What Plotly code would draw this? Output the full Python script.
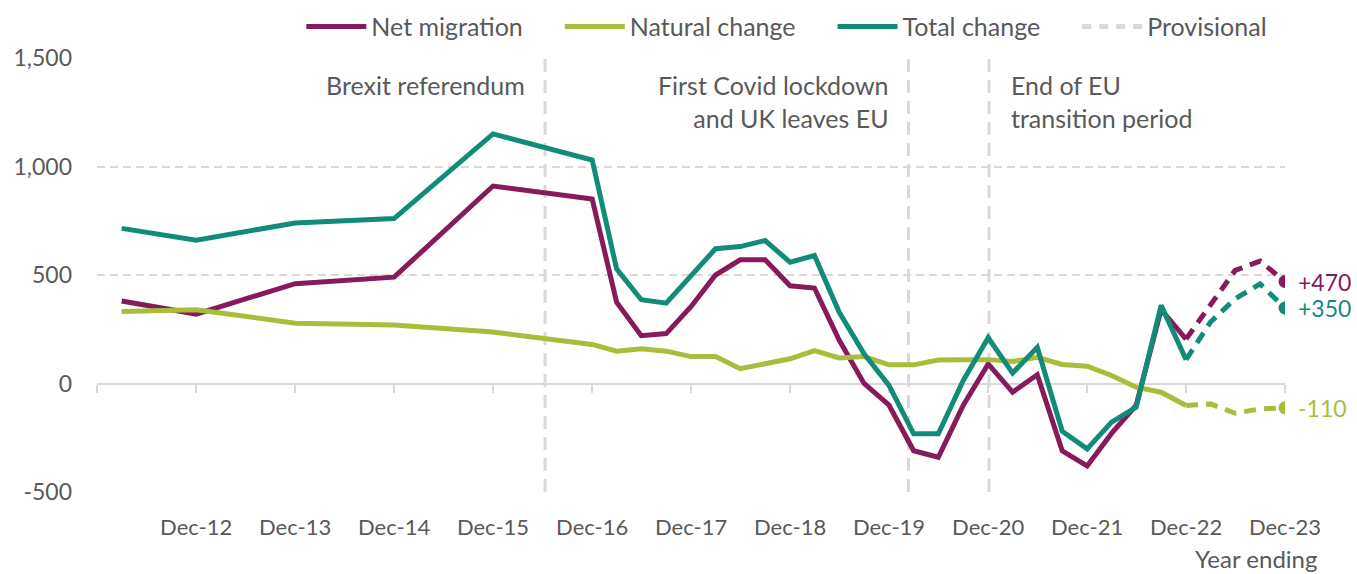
import plotly.graph_objects as go

# ---- data (thousands) ----
dates = ["2012-03-31", "2012-12-31", "2013-12-31", "2014-12-31", "2015-12-31", "2016-12-31",
         "2017-03-31", "2017-06-30", "2017-09-30", "2017-12-31",
         "2018-03-31", "2018-06-30", "2018-09-30", "2018-12-31",
         "2019-03-31", "2019-06-30", "2019-09-30", "2019-12-31",
         "2020-03-31", "2020-06-30", "2020-09-30", "2020-12-31",
         "2021-03-31", "2021-06-30", "2021-09-30", "2021-12-31",
         "2022-03-31", "2022-06-30", "2022-09-30", "2022-12-31"]
net_migration = [380, 320, 460, 490, 910, 850,
                 375, 220, 230, 355,
                 500, 570, 570, 450,
                 440, 200, 0, -100,
                 -310, -340, -100, 90,
                 -40, 40, -310, -380,
                 -230, -100, 340, 205]
natural_change = [332, 340, 278, 270, 237, 180,
                  149, 160, 149, 124,
                  124, 68, 91, 114,
                  152, 118, 124, 86,
                  86, 108, 110, 110,
                  101, 121, 88, 80,
                  37, -17, -40, -101]
total_change = [715, 660, 740, 760, 1150, 1030,
                528, 386, 370, 497,
                621, 631, 659, 559,
                590, 329, 137, -9,
                -232, -232, 14, 211,
                48, 167, -220, -301,
                -178, -109, 360, 110]

prov_dates = ["2022-12-31", "2023-03-31", "2023-06-30", "2023-09-30", "2023-12-31"]
prov_net = [205, 361, 521, 564, 470]
prov_natural = [-101, -94, -137, -117, -112]
prov_total = [110, 283, 390, 459, 348]
end_labels = ["+470", "-110", "+350"]

event_dates = ["2016-07-10", "2020-03-12", "2021-01-03"]
event_texts = ["Brexit referendum", "First Covid lockdown<br>and UK leaves EU", "End of EU<br>transition period"]

xtick_vals = ["2012-12-31", "2013-12-31", "2014-12-31", "2015-12-31", "2016-12-31", "2017-12-31",
              "2018-12-31", "2019-12-31", "2020-12-31", "2021-12-31", "2022-12-31", "2023-12-31"]
xtick_text = ["Dec-12", "Dec-13", "Dec-14", "Dec-15", "Dec-16", "Dec-17",
              "Dec-18", "Dec-19", "Dec-20", "Dec-21", "Dec-22", "Dec-23"]
axis_ticks = ["2011-12-31"] + xtick_vals
ytick_vals = [-500, 0, 500, 1000, 1500]
ytick_text = ["-500", "0", "500", "1,000", "1,500"]

# ---- styles ----
PURPLE = "#871A5B"
GREEN = "#A8BD3A"
TEAL = "#108C79"
GRID = "#D9D9D9"
TEXT = "#595959"
FONT = "Lato"
LW = 5
PAD = "\u00a0" * 5

fig = go.Figure()

series = [("Net migration", net_migration, prov_net, PURPLE),
          ("Natural change", natural_change, prov_natural, GREEN),
          ("Total change", total_change, prov_total, TEAL)]

for name, vals, pvals, col in series:
    fig.add_trace(go.Scatter(x=dates, y=vals, name=name + PAD, mode="lines",
                             line=dict(color=col, width=LW), hoverinfo="skip"))
for name, vals, pvals, col in series:
    fig.add_trace(go.Scatter(x=prov_dates, y=pvals, mode="lines", showlegend=False,
                             line=dict(color=col, width=LW, dash="12px,8px"), hoverinfo="skip"))
    fig.add_trace(go.Scatter(x=[prov_dates[-1]], y=[pvals[-1]], mode="markers", showlegend=False,
                             marker=dict(color=col, size=13), hoverinfo="skip"))

fig.add_trace(go.Scatter(x=[None], y=[None], name="Provisional", mode="lines",
                         line=dict(color=GRID, width=LW, dash="9px,8px")))

# invisible trace to carry the zero-line axis with tick marks
fig.add_trace(go.Scatter(x=axis_ticks, y=[None] * len(axis_ticks), xaxis="x2", mode="lines",
                         showlegend=False, hoverinfo="skip"))

# event lines and labels
for d in event_dates:
    fig.add_shape(type="line", xref="x", yref="paper", x0=d, x1=d, y0=0, y1=1,
                  line=dict(color=GRID, width=3, dash="13px,8px"), layer="below")
for d, t, anc, shift in zip(event_dates, event_texts, ["right", "right", "left"], [-18, -18, 20]):
    fig.add_annotation(x=d, xref="x", y=1, yref="paper", yanchor="top", xanchor=anc,
                       align=anc, text=t, showarrow=False, xshift=shift, yshift=-10,
                       font=dict(family=FONT, size=25, color=TEXT))

# end labels
for (name, vals, pvals, col), lab in zip(series, end_labels):
    fig.add_annotation(x=prov_dates[-1], y=pvals[-1], xref="x", yref="y", text=lab,
                       showarrow=False, xanchor="left", xshift=11,
                       font=dict(family=FONT, size=23, color=col))

fig.add_annotation(x=1, xref="paper", y=-0.154, yref="paper", yanchor="middle",
                   text="Year ending", showarrow=False, xanchor="right", xshift=34,
                   font=dict(family=FONT, size=24, color=TEXT))

fig.update_layout(
    width=1357, height=574,
    margin=dict(l=97, r=72, t=58, b=82, autoexpand=False),
    paper_bgcolor="white", plot_bgcolor="white",
    font=dict(family=FONT, size=22, color=TEXT),
    showlegend=True,
    legend=dict(orientation="h", x=0.172, xanchor="left", y=1.072, yanchor="middle",
                font=dict(family=FONT, size=25, color=TEXT), bgcolor="rgba(0,0,0,0)",
                itemwidth=60, tracegroupgap=0),
    xaxis=dict(type="date", range=["2011-12-31", "2023-12-31"], tickvals=xtick_vals,
               ticktext=xtick_text, showgrid=False, showline=False, ticks="",
               zeroline=False, tickfont=dict(family=FONT, size=22, color=TEXT),
               ticklabelstandoff=20),
    xaxis2=dict(type="date", range=["2011-12-31", "2023-12-31"], overlaying="x",
                anchor="free", position=0.25, side="bottom", tickvals=axis_ticks,
                showticklabels=False, showgrid=False, showline=True, linecolor=GRID,
                linewidth=2, ticks="outside", ticklen=8, tickwidth=2, tickcolor=GRID,
                layer="below traces", zeroline=False),
    yaxis=dict(range=[-500, 1500], tickvals=ytick_vals, ticktext=ytick_text,
               showgrid=True, gridcolor=GRID, gridwidth=1.5, griddash="8px,5px",
               zeroline=False, showline=False, ticks="",
               tickfont=dict(family=FONT, size=23, color=TEXT), ticklabelstandoff=24),
)

fig.write_html("out.html", config={"displayModeBar": False},
               post_script="document.body.style.margin='0';document.body.style.overflow='hidden';")
